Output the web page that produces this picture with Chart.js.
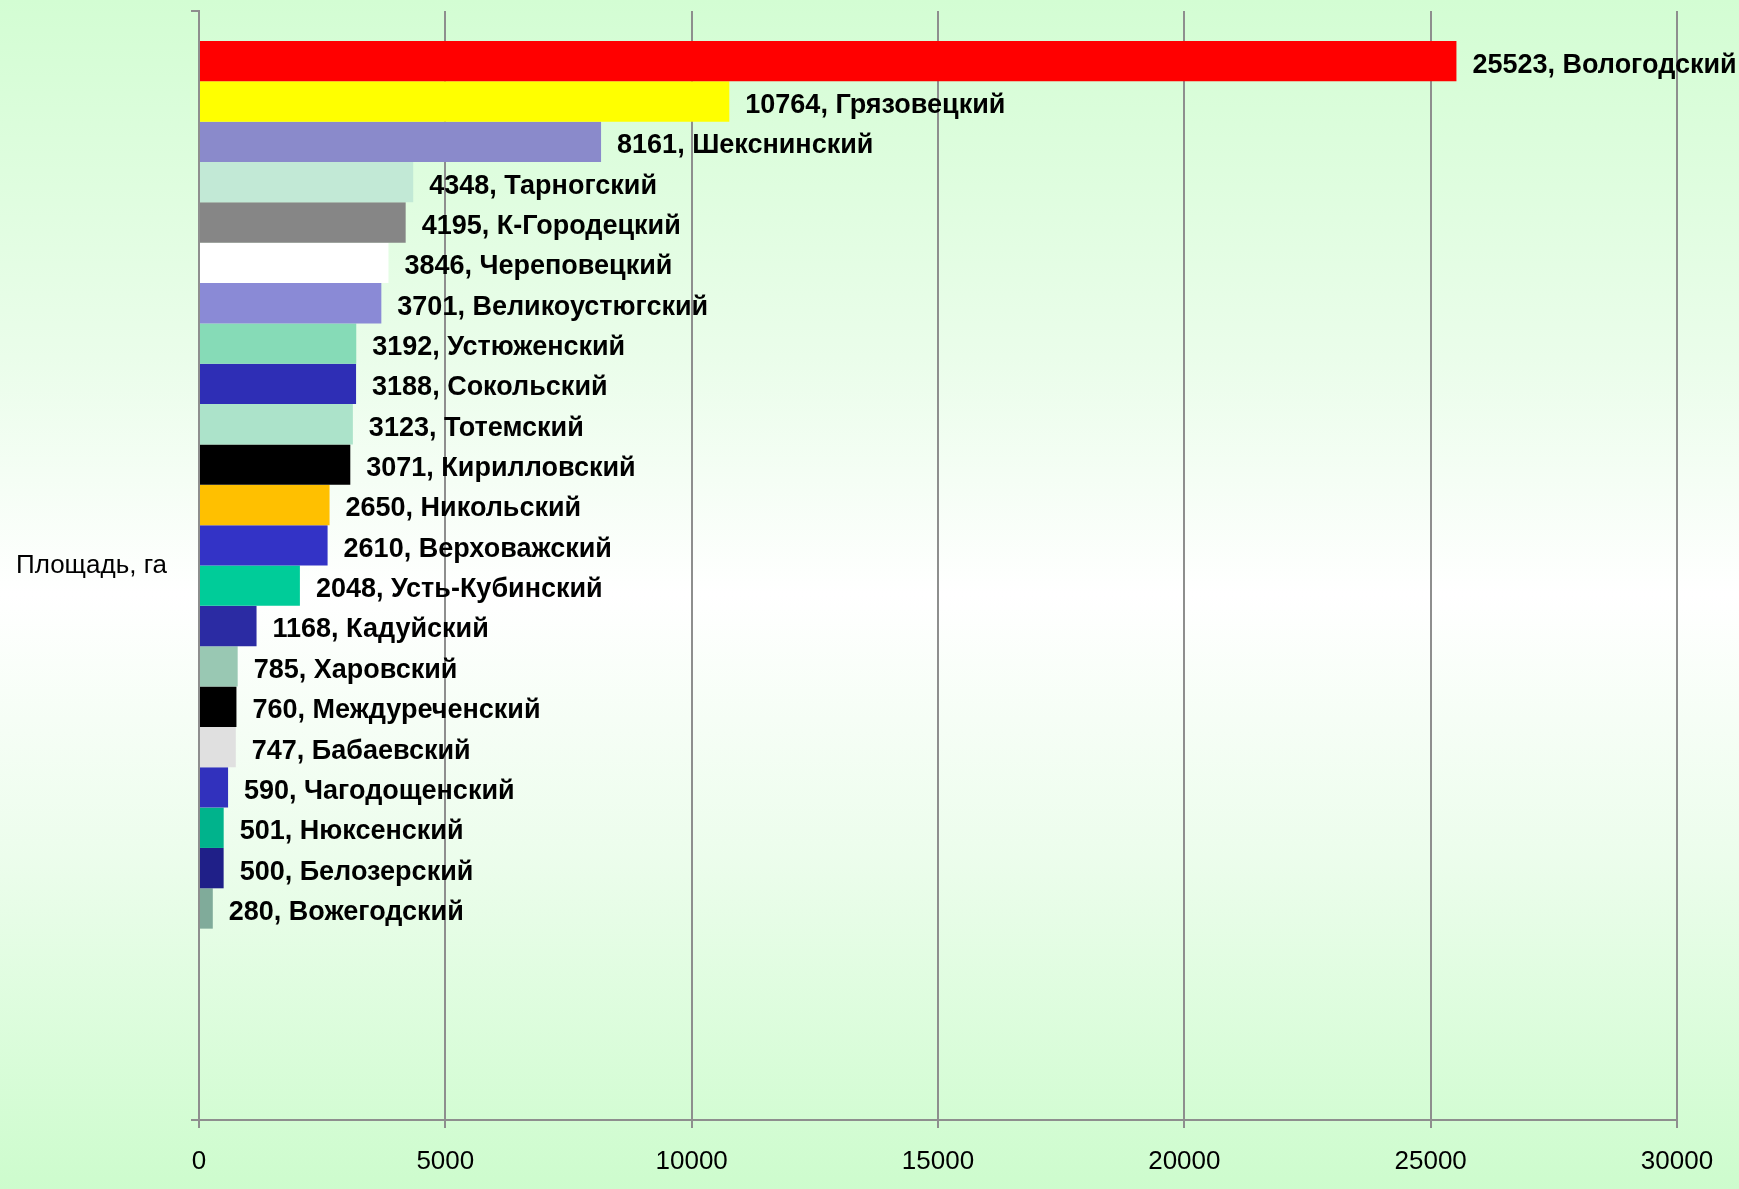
<!DOCTYPE html>
<html>
<head>
<meta charset="utf-8">
<script src="https://cdn.jsdelivr.net/npm/chart.js@4/dist/chart.umd.min.js"></script>
<style>
  html, body { margin: 0; padding: 0; }
  body {
    width: 1739px; height: 1189px; overflow: hidden;
    background: linear-gradient(to bottom, #d3fdd3 0%, #eafdea 30%, #ffffff 50%, #ecfdec 72%, #cdfccd 100%);
  }
  #wrap { position: relative; width: 1739px; height: 1189px; }
</style>
</head>
<body>
<div id="wrap"><canvas id="c" width="1739" height="1189"></canvas></div>
<script>
// ---- data ----
const categories = ['Площадь, га'];
const districts = ['Вологодский','Грязовецкий','Шекснинский','Тарногский','К-Городецкий','Череповецкий','Великоустюгский','Устюженский','Сокольский','Тотемский','Кирилловский','Никольский','Верховажский','Усть-Кубинский','Кадуйский','Харовский','Междуреченский','Бабаевский','Чагодощенский','Нюксенский','Белозерский','Вожегодский'];
const areas = [25523,10764,8161,4348,4195,3846,3701,3192,3188,3123,3071,2650,2610,2048,1168,785,760,747,590,501,500,280];
const barColors = ['#ff0000','#ffff00','#8a8acb','#c2e9d6','#868686','#ffffff','#8a8ad6','#86dbb7','#2e2eb5','#ace3ca','#000000','#ffc000','#3333c6','#00cc99','#2b2ba3','#99c8b3','#000000','#e0e0e0','#3131bd','#00b38c','#1f1f88','#80ab9a'];
const emptySeriesCount = 4; // empty series in the source chart (no bars)
const xTicks = [0,5000,10000,15000,20000,25000,30000];

const datasets = districts.map((name, i) => ({
  label: name,
  data: [areas[i]],
  backgroundColor: barColors[i],
  borderWidth: 0
}));
for (let k = 0; k < emptySeriesCount; k++) {
  datasets.push({ label: '', data: [null], backgroundColor: 'rgba(0,0,0,0)', borderWidth: 0 });
}

const FONT = '"Liberation Sans", Arial, sans-serif';
const GRID = '#8e8e8e';

const valueLabels = {
  id: 'valueLabels',
  afterDatasetsDraw(chart) {
    const ctx = chart.ctx;
    ctx.save();
    ctx.font = 'bold 27px ' + FONT;
    ctx.fillStyle = '#000';
    ctx.textAlign = 'left';
    ctx.textBaseline = 'middle';
    chart.data.datasets.forEach((ds, di) => {
      const meta = chart.getDatasetMeta(di);
      meta.data.forEach((el, j) => {
        const v = ds.data[j];
        if (v === null || v === undefined) return;
        ctx.fillText(v + ', ' + ds.label, el.x + 16, el.y + 4);
      });
    });
    ctx.restore();
  }
};

new Chart(document.getElementById('c'), {
  type: 'bar',
  data: { labels: categories, datasets },
  plugins: [valueLabels],
  options: {
    indexAxis: 'y',
    responsive: false,
    animation: false,
    categoryPercentage: 0.946,
    barPercentage: 1.0,
    layout: { padding: { top: 11, right: 62, left: 0, bottom: 0 } },
    plugins: {
      legend: { display: false },
      tooltip: { enabled: false }
    },
    scales: {
      x: {
        type: 'linear',
        min: 0, max: 30000,
        afterBuildTicks(scale) { scale.ticks = xTicks.map(v => ({ value: v })); },
        afterFit(scale) { scale.height = 69; },
        grid: { color: GRID, lineWidth: 2, tickLength: 8, drawOnChartArea: true, drawTicks: true },
        border: { display: true, color: GRID, width: 2 },
        ticks: { color: '#000', font: { family: FONT, size: 26 }, padding: 18, maxRotation: 0,
                 callback: (v) => String(v) }
      },
      y: {
        type: 'category',
        afterFit(scale) { scale.width = 199; scale.paddingTop = 0; scale.paddingBottom = 0; },
        grid: { color: GRID, lineWidth: 2, tickLength: 8, drawOnChartArea: false, drawTicks: true, offset: true },
        border: { display: true, color: GRID, width: 2 },
        ticks: { color: '#000', font: { family: FONT, size: 26 }, padding: 24 }
      }
    }
  }
});
</script>
</body>
</html>
